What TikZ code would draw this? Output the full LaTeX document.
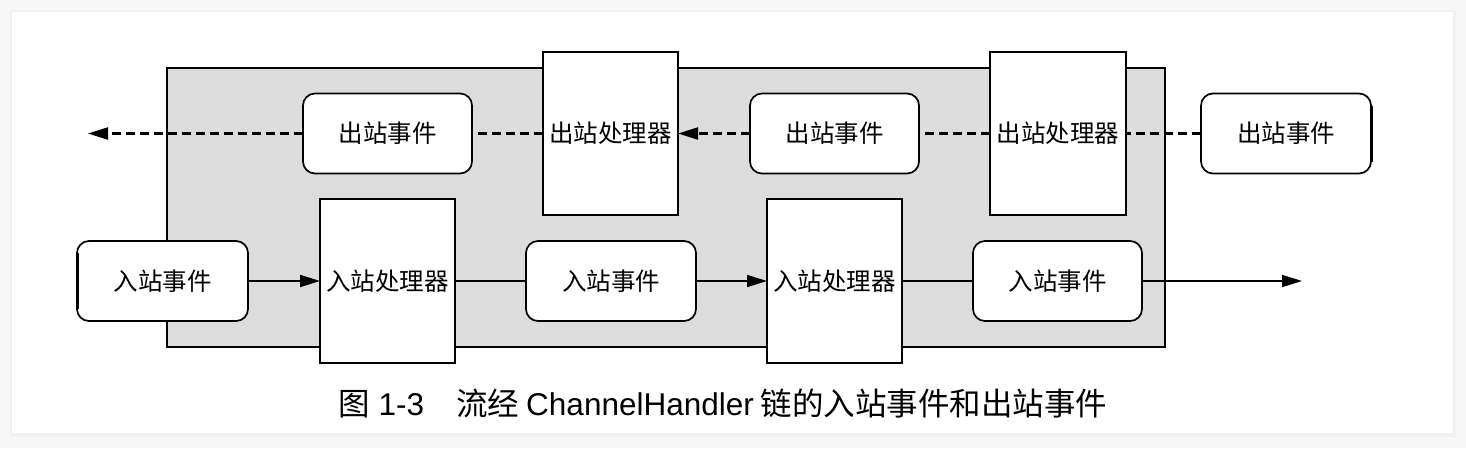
\documentclass[tikz,border=0pt]{standalone}
\usepackage{fontspec}
\newfontfamily\cjk{Noto Sans CJK SC}
\newfontfamily\lat{Liberation Sans}
\usetikzlibrary{arrows.meta}
\definecolor{panel}{RGB}{220,220,220}
\definecolor{outerbg}{RGB}{246,246,246}
\tikzset{
  evbox/.style={draw, line width=1.7pt, fill=white, rounded corners=12pt, inner sep=0pt, outer sep=0pt,
     minimum width=#1, minimum height=80pt, font=\cjk\fontsize{24.5}{27}\selectfont},
  hdbox/.style={draw, line width=1.7pt, fill=white, inner sep=0pt, outer sep=0pt,
     minimum width=#1, minimum height=163pt, font=\cjk\fontsize{24.5}{27}\selectfont},
  flow/.style={line width=1.7pt},
  dflow/.style={line width=2.1pt, dash pattern=on 9pt off 5pt},
  tip/.style={-{Triangle[length=20pt,width=12pt]}}
}
\begin{document}
\begin{tikzpicture}[x=1pt,y=-1pt]
\useasboundingbox (0,0) rectangle (1466,448);
% page background and card
\fill[outerbg] (0,0) rectangle (1466,448);
\fill[black!3] (8,8) rectangle (1458,440);
\fill[black!5] (10,10) rectangle (1456,437);
\fill[black!6] (11,11) rectangle (1455,435);
\fill[white] (12,12) rectangle (1453,433);
% gray panel
\draw[line width=1.7pt, fill=panel] (167,68) rectangle (1165,347);
% outbound row
\node[evbox=169pt] (out1) at (387.5,133.5) {出站事件};
\node[evbox=169pt] (out2) at (834.5,133.5) {出站事件};
\node[evbox=170pt] (out3) at (1286,133.5) {出站事件};
\node[hdbox=135pt] (oh1) at (610.5,133.5) {出站处理器};
\node[hdbox=136pt] (oh2) at (1058,133.5) {出站处理器};
% inbound row
\node[evbox=171pt] (in1) at (162.5,281) {入站事件};
\node[evbox=170pt] (in2) at (611,281) {入站事件};
\node[evbox=169pt] (in3) at (1057.5,281) {入站事件};
\node[hdbox=135pt, minimum height=164pt] (ih1) at (387.5,281) {入站处理器};
\node[hdbox=135pt, minimum height=164pt] (ih2) at (834.5,281) {入站处理器};
% thicker edges
\draw[line width=3pt] ([yshift=-12pt]in1.north west) -- ([yshift=12pt]in1.south west);
\draw[line width=3pt] ([yshift=-12pt]out3.north east) -- ([yshift=12pt]out3.south east);
% free ends
\coordinate (leftend) at (88,133.5);
\coordinate (rightend) at (1302,281);
% inbound connectors
\draw[flow,tip] (in1) -- (ih1);
\draw[flow] (ih1) -- (in2);
\draw[flow,tip] (in2) -- (ih2);
\draw[flow] (ih2) -- (in3);
\draw[flow,tip] (in3) -- (rightend);
% outbound connectors
\draw[dflow] (out3) -- (oh2);
\draw[dflow] (oh2) -- (out2);
\draw[dflow,tip] (out2) -- (oh1);
\draw[dflow] (oh1) -- (out1);
\draw[dflow,tip] (out1) -- (leftend);
% caption
\node[font=\cjk\fontsize{31.5}{34}\selectfont, inner sep=0pt, anchor=west] (cap) at (338,404)
  {图\hspace{9pt}{\lat 1-3}\hspace{32pt}流经\hspace{7pt}{\lat ChannelHandler}\hspace{7pt}链的入站事件和出站事件};
\end{tikzpicture}
\end{document}
